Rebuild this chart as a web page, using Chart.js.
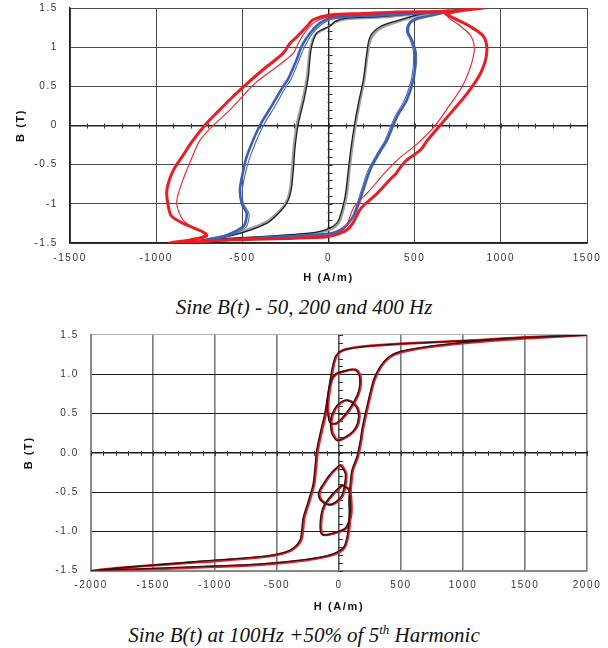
<!DOCTYPE html>
<html>
<head>
<meta charset="utf-8">
<script src="https://cdn.jsdelivr.net/npm/chart.js@4.4.1/dist/chart.umd.min.js"></script>
<style>
  body { margin: 0; background: #fff; }
  #page { position: relative; width: 608px; height: 648px; }
  canvas { position: absolute; left: 0; }
  .caption {
    position: absolute; left: 0; width: 608px; text-align: center;
    font-family: 'Liberation Serif', 'Times New Roman', serif;
    font-style: italic; font-size: 21px; color: #111; line-height: 24px;
  }
  .caption sup { font-size: 13px; line-height: 0; }
</style>
</head>
<body>
<div id="page">
  <canvas id="sineChart" width="608" height="292" style="top:0"></canvas>
  <div class="caption" style="top:295px">Sine B(t) - 50, 200 and 400 Hz</div>
  <canvas id="harmChart" width="608" height="296" style="top:322px"></canvas>
  <div class="caption" style="top:623px">Sine B(t) at 100Hz +50% of 5<sup>th</sup> Harmonic</div>
</div>
<script>
// ---- top chart: sine B(t), 50 / 200 / 400 Hz ----
// 50 Hz loop (black) and its repeat trace (grey)
const h50 = [700, 500, 300, 106, 40, 9, -40, -69, -98, -110, -117, -142, -177, -195, -204, -215, -233, -272, -359, -552, -746,
  -649, -400, -200, -69, 9, 50, 67, 96, 115, 129, 150, 175, 202, 222, 241, 299, 400, 512, 600, 700];
const b50 = [1.47, 1.43, 1.39, 1.37, 1.33, 1.27, 1.22, 1.18, 1.01, 0.8, 0.62, 0.33, 0, -0.3, -0.57, -0.8, -0.95, -1.08, -1.25, -1.40, -1.47,
  -1.45, -1.42, -1.39, -1.36, -1.31, -1.24, -1.16, -0.91, -0.57, -0.31, 0, 0.3, 0.58, 0.92, 1.13, 1.26, 1.34, 1.41, 1.44, 1.47];
const h50b = [700, 500, 300, 106, 40, 0, -50, -80, -105, -117, -125, -150, -185, -203, -212, -222, -240, -280, -370, -560, -746,
  -640, -400, -200, -60, 18, 58, 75, 104, 122, 136, 157, 182, 208, 228, 250, 310, 410, 520, 600, 700];
const b50b = [1.47, 1.42, 1.38, 1.36, 1.32, 1.26, 1.2, 1.15, 1.0, 0.8, 0.62, 0.33, 0, -0.3, -0.57, -0.8, -0.95, -1.08, -1.24, -1.39, -1.47,
  -1.46, -1.43, -1.40, -1.37, -1.32, -1.25, -1.16, -0.91, -0.57, -0.31, 0, 0.3, 0.58, 0.92, 1.12, 1.25, 1.33, 1.40, 1.43, 1.47];

// 200 Hz loop (blue, thick and thin trace)
const h200 = [700, 500, 299, 100, 9, -49, -107, -156, -185, -233, -263, -330, -398, -440, -475, -494, -514, -504, -475, -480, -494, -591, -707, -740,
  -456, -200, 9, 86, 144, 175, 202, 241, 300, 339, 397, 455, 496, 506, 484, 460, 473, 512, 628, 700];
const b200 = [1.46, 1.43, 1.41, 1.39, 1.37, 1.31, 1.18, 1.01, 0.84, 0.60, 0.50, 0.25, 0, -0.2, -0.40, -0.57, -0.82, -0.99, -1.12, -1.22, -1.29, -1.40, -1.46, -1.48,
  -1.44, -1.41, -1.38, -1.31, -1.16, -1.0, -0.82, -0.57, -0.33, -0.19, 0.11, 0.33, 0.62, 0.92, 1.09, 1.2, 1.31, 1.36, 1.42, 1.46];
const h200b = [700, 500, 299, 100, 9, -40, -95, -140, -170, -215, -245, -310, -378, -420, -455, -478, -500, -495, -462, -465, -480, -580, -707, -740,
  -456, -200, 9, 80, 135, 166, 192, 230, 290, 328, 385, 442, 484, 494, 475, 452, 466, 505, 620, 700];
const b200b = [1.46, 1.42, 1.40, 1.38, 1.35, 1.29, 1.17, 1.0, 0.84, 0.6, 0.5, 0.25, 0, -0.2, -0.40, -0.57, -0.82, -0.99, -1.12, -1.22, -1.30, -1.41, -1.47, -1.48,
  -1.45, -1.42, -1.39, -1.33, -1.18, -1.0, -0.82, -0.57, -0.33, -0.19, 0.11, 0.33, 0.62, 0.92, 1.09, 1.2, 1.31, 1.37, 1.42, 1.46];

// 400 Hz loop (red, thick and thin trace)
const h400 = [903, 680, 396, 200, 9, -90, -119, -185, -223, -264, -359, -450, -554, -640, -707, -790, -850, -900, -930, -939, -932, -910, -823, -728, -707, -800, -920,
  -552, -200, -10, 60, 109, 140, 187, 240, 290, 361, 390, 405, 450, 535, 573, 690, 805, 883, 918, 902, 825, 709, 680, 780, 903];
const b400 = [1.50, 1.46, 1.45, 1.43, 1.41, 1.35, 1.28, 1.13, 1.05, 0.92, 0.75, 0.58, 0.37, 0.18, 0.03, -0.2, -0.40, -0.57, -0.74, -0.86, -1.0, -1.16, -1.27, -1.36, -1.41, -1.46, -1.50,
  -1.46, -1.44, -1.42, -1.38, -1.33, -1.25, -1.06, -0.95, -0.85, -0.68, -0.62, -0.57, -0.45, -0.31, -0.19, 0.11, 0.41, 0.67, 0.92, 1.13, 1.26, 1.39, 1.43, 1.47, 1.50];
const h400b = [903, 680, 396, 200, 9, -80, -140, -175, -205, -300, -420, -500, -580, -655, -746, -800, -852, -881, -843, -760, -707, -800, -920,
  -552, -200, -10, 60, 100, 148, 230, 341, 420, 496, 612, 700, 786, 844, 830, 760, 690, 780, 903];
const b400b = [1.50, 1.46, 1.44, 1.42, 1.39, 1.32, 1.18, 1.05, 0.92, 0.75, 0.55, 0.37, 0.18, 0.03, -0.19, -0.45, -0.74, -0.99, -1.21, -1.33, -1.38, -1.46, -1.50,
  -1.46, -1.44, -1.42, -1.37, -1.30, -1.04, -0.85, -0.57, -0.40, -0.27, -0.02, 0.25, 0.54, 0.92, 1.13, 1.28, 1.40, 1.46, 1.50];

// ---- bottom chart: 100 Hz + 50% 5th harmonic ----
// major loop, black and red traces
const hMajK = [2000, 1500, 1064, 526, 177, 60, 10, -28, -52, -75, -100, -115, -145, -180, -195, -210, -245, -290, -315, -394, -582, -1120, -1658, -2000,
  -1500, -1000, -600, -281, -100, -12, 42, 72, 82, 80, 90, 104, 144, 171, 185, 225, 279, 333, 400, 494, 795, 1336, 2000];
const bMajK = [1.5, 1.47, 1.43, 1.39, 1.35, 1.32, 1.29, 1.23, 1.10, 0.9, 0.65, 0.5, 0.3, 0.04, -0.2, -0.4, -0.6, -0.83, -1.11, -1.24, -1.31, -1.38, -1.45, -1.5,
  -1.47, -1.44, -1.41, -1.36, -1.31, -1.26, -1.19, -1.0, -0.77, -0.6, -0.4, -0.22, -0.05, 0.15, 0.3, 0.59, 0.93, 1.10, 1.22, 1.29, 1.37, 1.45, 1.5];
const hMajR = [2000, 1500, 1064, 526, 177, 60, 15, -20, -45, -66, -90, -105, -135, -170, -186, -200, -235, -280, -305, -385, -582, -1120, -1658, -2000,
  -1500, -1000, -600, -281, -100, -5, 50, 80, 90, 88, 98, 112, 152, 179, 193, 233, 287, 340, 405, 500, 795, 1336, 2000];
const bMajR = [1.5, 1.47, 1.43, 1.39, 1.35, 1.32, 1.29, 1.23, 1.10, 0.9, 0.65, 0.5, 0.3, 0.04, -0.2, -0.4, -0.6, -0.83, -1.11, -1.24, -1.32, -1.39, -1.45, -1.5,
  -1.48, -1.45, -1.42, -1.37, -1.32, -1.27, -1.19, -1.0, -0.77, -0.6, -0.4, -0.22, -0.05, 0.15, 0.3, 0.59, 0.93, 1.10, 1.21, 1.28, 1.36, 1.44, 1.5];

// minor loops (upper pair and lower pair)
const hLoopA = [-80, -95, -88, -65, -30, 40, 120, 160, 168, 150, 100, 40, -20, -60, -80];
const bLoopA = [0.40, 0.55, 0.75, 0.92, 1.0, 1.04, 1.06, 1.0, 0.88, 0.75, 0.6, 0.47, 0.38, 0.37, 0.40];
const hLoopB = [-60, -70, -40, 10, 60, 120, 155, 150, 110, 40, -20, -60];
const bLoopB = [0.25, 0.4, 0.55, 0.64, 0.67, 0.62, 0.52, 0.38, 0.27, 0.19, 0.16, 0.25];
const hLoopC = [10, 50, 45, 20, -30, -85, -150, -165, -125, -60, 10];
const bLoopC = [-0.15, -0.26, -0.4, -0.55, -0.63, -0.66, -0.6, -0.51, -0.39, -0.25, -0.15];
const hLoopD = [23, 77, 92, 88, 50, -40, -138, -152, -125, -44, 23];
const bLoopD = [-0.41, -0.47, -0.65, -0.81, -0.96, -1.02, -1.04, -0.89, -0.68, -0.51, -0.41];
const hLoopAr = [-72, -88, -80, -58, -22, 48, 128, 168, 176, 158, 108, 48, -12, -52, -72];
const bLoopAr = [0.40, 0.55, 0.75, 0.92, 1.0, 1.04, 1.06, 1.0, 0.88, 0.75, 0.6, 0.47, 0.38, 0.37, 0.40];
const hLoopBr = [-52, -62, -32, 18, 68, 128, 163, 158, 118, 48, -12, -52];
const bLoopBr = [0.25, 0.4, 0.55, 0.64, 0.67, 0.62, 0.52, 0.38, 0.27, 0.19, 0.16, 0.25];
const hLoopCr = [18, 58, 53, 28, -22, -77, -142, -157, -117, -52, 18];
const bLoopCr = [-0.15, -0.26, -0.4, -0.55, -0.63, -0.66, -0.6, -0.51, -0.39, -0.25, -0.15];
const hLoopDr = [31, 85, 100, 96, 58, -32, -130, -144, -117, -36, 31];
const bLoopDr = [-0.41, -0.47, -0.65, -0.81, -0.96, -1.02, -1.04, -0.89, -0.68, -0.51, -0.41];

// axis ticks
const topTicksH = [-1500, -1000, -500, 0, 500, 1000, 1500];
const topTicksB = [-1.5, -1, -0.5, 0, 0.5, 1, 1.5];
const botTicksH = [-2000, -1500, -1000, -500, 0, 500, 1000, 1500, 2000];
const botTicksB = [-1.5, -1.0, -0.5, 0.0, 0.5, 1.0, 1.5];

const FONT = "'Liberation Sans', Arial, sans-serif";

function pts(h, b) {
    return h.map((v, i) => ({ x: v, y: b[i] }));
}

function trace(h, b, color, width) {
    return {
        data: pts(h, b),
        showLine: true,
        borderColor: color,
        borderWidth: width,
        pointRadius: 0,
        tension: 0.3,
        fill: false
    };
}

// letter spacing for axis text
const spacedText = {
    id: 'spacedText',
    beforeLayout(chart) { chart.ctx.letterSpacing = '1.6px'; },
    beforeDraw(chart) { chart.ctx.letterSpacing = '1.6px'; }
};

// minor ticks along the zero axes
const zeroTicks = {
    id: 'zeroTicks',
    beforeDatasetsDraw(chart, args, opts) {
        const { ctx, scales: { x, y } } = chart;
        const x0 = x.getPixelForValue(0), y0 = y.getPixelForValue(0);
        ctx.save();
        ctx.strokeStyle = opts.color;
        ctx.lineWidth = 1;
        ctx.beginPath();
        for (let v = x.min; v <= x.max; v += opts.stepH) {
            const px = Math.round(x.getPixelForValue(v)) + 0.5;
            ctx.moveTo(px, y0 - 2);
            ctx.lineTo(px, y0 + 3);
        }
        for (let k = Math.round(y.min * 10); k <= Math.round(y.max * 10); k += 1) {
            const py = Math.round(y.getPixelForValue(k / 10)) + 0.5;
            ctx.moveTo(x0 - 1, py);
            ctx.lineTo(x0 + 4, py);
        }
        ctx.stroke();
        ctx.restore();
    }
};

function axes(cfg) {
    return {
        x: {
            type: 'linear', min: cfg.ticksH[0], max: cfg.ticksH[cfg.ticksH.length - 1],
            afterBuildTicks: s => { s.ticks = cfg.ticksH.map(v => ({ value: v })); },
            afterFit: s => { s.height = cfg.xHeight; s.paddingLeft = 0; s.paddingRight = 0; },
            grid: { drawTicks: false, color: cfg.xGridColor, lineWidth: cfg.xGridWidth },
            border: { color: cfg.borderColor, width: cfg.borderWidth },
            ticks: { padding: 9, color: '#333', font: { family: FONT, size: 10 }, callback: v => String(v) },
            title: { display: true, text: 'H (A/m)', color: '#111', padding: { top: 0, bottom: cfg.titlePad },
                font: { family: FONT, size: 11, weight: 'bold' } }
        },
        y: {
            type: 'linear', min: cfg.ticksB[0], max: cfg.ticksB[cfg.ticksB.length - 1],
            afterBuildTicks: s => { s.ticks = cfg.ticksB.map(v => ({ value: v })); },
            afterFit: s => { s.width = cfg.yWidth; s.paddingTop = 0; s.paddingBottom = 0; },
            grid: { drawTicks: false, color: cfg.yGridColor, lineWidth: cfg.yGridWidth },
            border: { color: cfg.borderColor, width: cfg.borderWidth },
            ticks: { padding: 12, color: '#333', font: { family: FONT, size: 10 }, callback: cfg.fmtB },
            title: { display: true, text: 'B (T)', color: '#111', padding: { top: cfg.yTitlePad, bottom: 0 },
                font: { family: FONT, size: 11, weight: 'bold' } }
        }
    };
}

function baseOptions(scales, pad, stepH) {
    return {
        responsive: false,
        animation: false,
        devicePixelRatio: 1,
        layout: { padding: pad },
        plugins: { legend: { display: false }, tooltip: { enabled: false }, zeroTicks: { color: '#333', stepH: stepH } },
        scales: scales
    };
}

document.addEventListener('DOMContentLoaded', function() {
    // Sine B(t) chart (first dataset is drawn on top)
    const sineCtx = document.getElementById('sineChart').getContext('2d');
    new Chart(sineCtx, {
        type: 'scatter',
        data: {
            datasets: [
                trace(h400, b400, '#ea1d25', 3),
                trace(h400b, b400b, '#ec2027', 1.1),
                trace(h200b, b200b, '#4466b8', 1.1),
                trace(h200, b200, '#3d5fb3', 2.6),
                trace(h50, b50, '#1e1e1e', 1.3),
                trace(h50b, b50b, '#a0a0a0', 2.4)
            ]
        },
        options: baseOptions(axes({
            ticksH: topTicksH, ticksB: topTicksB, xHeight: 49, yWidth: 70, titlePad: 7, yTitlePad: 14,
            xGridColor: c => c.tick && c.tick.value === 0 ? '#222' : '#4a4a4a',
            xGridWidth: c => c.tick && c.tick.value === 0 ? 1.4 : 1,
            yGridColor: c => c.tick && c.tick.value === 0 ? '#222' : '#4a4a4a',
            yGridWidth: c => c.tick && c.tick.value === 0 ? 1.6 : 1,
            borderColor: '#222', borderWidth: 1.5,
            fmtB: v => String(v)
        }), { left: 0, right: 21, top: 8, bottom: 0 }, 100),
        plugins: [spacedText, zeroTicks]
    });

    // 5th harmonic chart (black traces on top of red)
    const harmCtx = document.getElementById('harmChart').getContext('2d');
    new Chart(harmCtx, {
        type: 'scatter',
        data: {
            datasets: [
                trace(hMajK, bMajK, '#2a1414', 1.3),
                trace(hLoopA, bLoopA, '#2a1414', 1.3),
                trace(hLoopB, bLoopB, '#2a1414', 1.3),
                trace(hLoopC, bLoopC, '#2a1414', 1.3),
                trace(hLoopD, bLoopD, '#2a1414', 1.3),
                trace(hMajR, bMajR, '#e41e26', 2.6),
                trace(hLoopAr, bLoopAr, '#e41e26', 2.6),
                trace(hLoopBr, bLoopBr, '#e41e26', 2.6),
                trace(hLoopCr, bLoopCr, '#e41e26', 2.6),
                trace(hLoopDr, bLoopDr, '#e41e26', 2.6)
            ]
        },
        options: baseOptions(axes({
            ticksH: botTicksH, ticksB: botTicksB, xHeight: 47.3, yWidth: 91, titlePad: 4.7, yTitlePad: 22,
            xGridColor: c => c.tick && c.tick.value === 0 ? '#555' : '#7a7a7a',
            xGridWidth: 1.6,
            yGridColor: c => c.tick && c.tick.value === 1.5 ? '#b0b0b0' : '#1a1a1a',
            yGridWidth: c => c.tick && c.tick.value === 0 ? 1.6 : 1.1,
            borderColor: '#888', borderWidth: 2,
            fmtB: v => v.toFixed(1)
        }), { left: 0, right: 21, top: 13, bottom: 0 }, 100),
        plugins: [spacedText, zeroTicks]
    });
});
</script>
</body>
</html>
